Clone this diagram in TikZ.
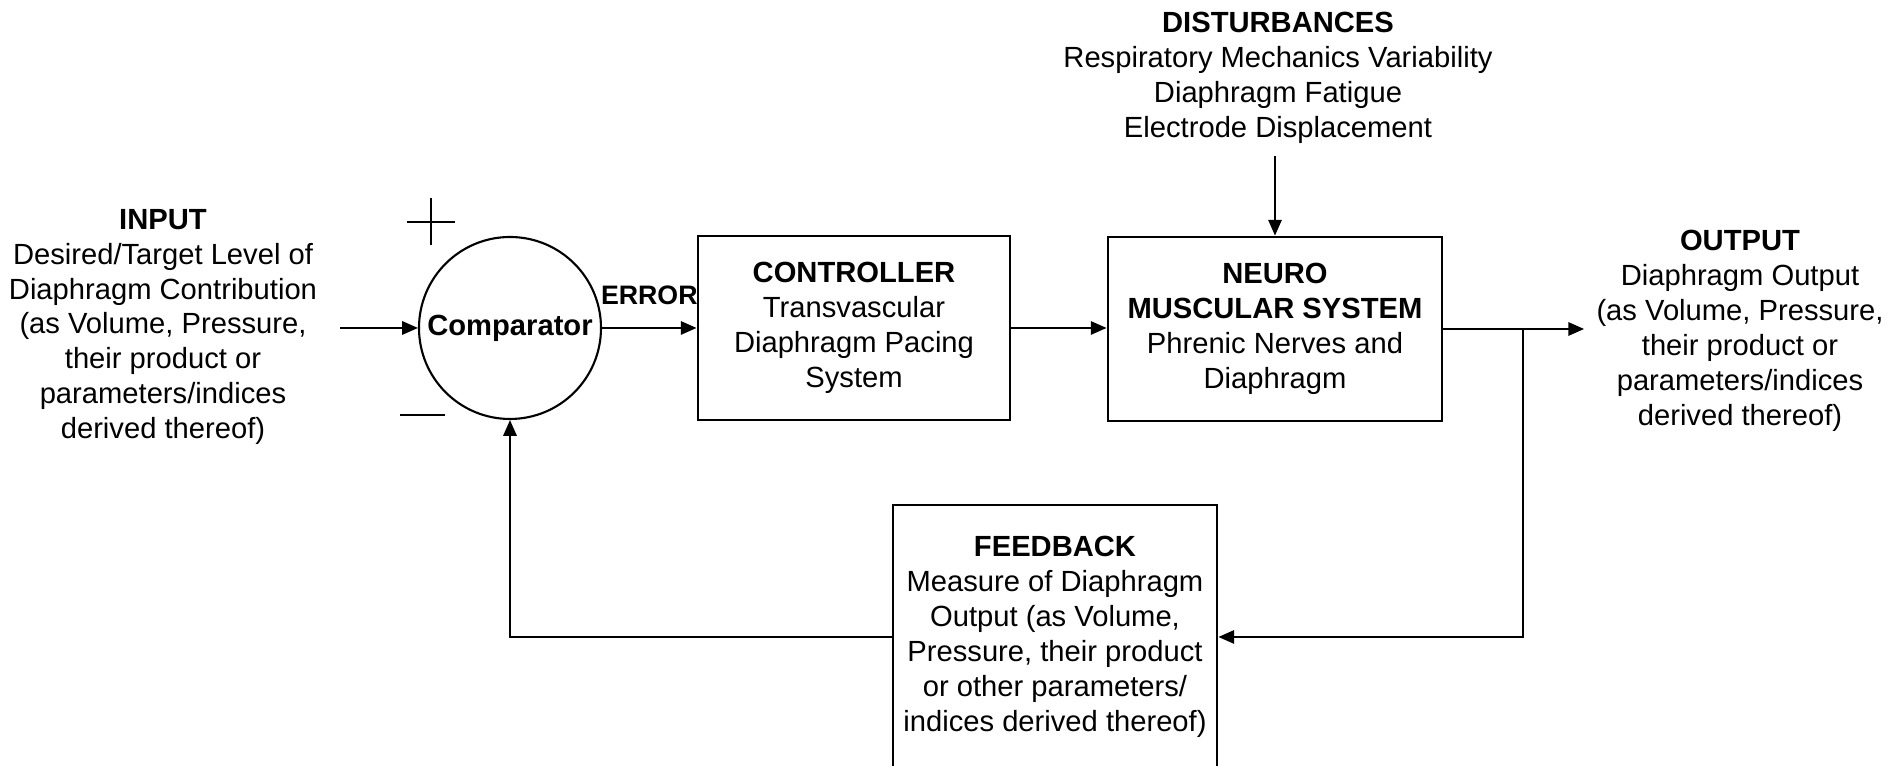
\documentclass[tikz,border=0pt]{standalone}
\usepackage{fontspec}
\setmainfont{Liberation Sans}
\usetikzlibrary{arrows.meta}
\newcommand{\diagfont}{\fontsize{8.3}{9.95}\selectfont}

\begin{document}
\begin{tikzpicture}[>={Triangle[length=4.5pt,width=3.8pt]}, font=\diagfont,
    block/.style={draw, line width=0.8pt, align=center, inner sep=0pt},
    link/.style={->, line width=0.6pt}]
        \useasboundingbox (0,0) rectangle (19.04,7.66);
        \clip (0,0) rectangle (19.04,7.66);
        \node[align=center] (input) at (1.63,4.39) {\textbf{INPUT}\\Desired/Target Level of\\Diaphragm Contribution\\(as Volume, Pressure,\\their product or\\parameters/indices\\derived thereof)};
        \node[draw, circle, line width=0.6pt, minimum size=1.82cm, inner sep=0pt, font=\diagfont\bfseries] (comp) at (5.10,4.38) {Comparator};
        \draw[line width=0.6pt] (4.07,5.44) -- (4.55,5.44) (4.31,5.21) -- (4.31,5.68);
        \draw[line width=0.7pt] (4.00,3.51) -- (4.45,3.51);
        \node[block, minimum width=3.12cm, minimum height=1.84cm] (ctrl) at (8.54,4.38) {\textbf{CONTROLLER}\\Transvascular\\Diaphragm Pacing\\System};
        \node[block, minimum width=3.34cm, minimum height=1.84cm] (nms) at (12.75,4.37) {\textbf{NEURO}\\\textbf{MUSCULAR SYSTEM}\\Phrenic Nerves and\\Diaphragm};
        \node[align=center] (dist) at (12.78,6.88) {\textbf{DISTURBANCES}\\Respiratory Mechanics Variability\\Diaphragm Fatigue\\Electrode Displacement};
        \node[align=center] (output) at (17.40,4.355) {\textbf{OUTPUT}\\Diaphragm Output\\(as Volume, Pressure,\\their product or\\parameters/indices\\derived thereof)};
        \node[block, minimum width=3.24cm, minimum height=2.64cm] (fb) at (10.55,1.29) {\textbf{FEEDBACK}\\Measure of Diaphragm\\Output (as Volume,\\Pressure, their product\\or other parameters/\\indices derived thereof)};
        \coordinate (tap) at (15.23,4.37);
        \draw[link, shorten <=3pt] (input.east |- comp) -- (comp);
        \draw[link] (comp) -- node[above=3pt, font=\fontsize{7.6}{9}\selectfont\bfseries] (err) {ERROR} (ctrl);
        \draw[link] (ctrl.east) -- (ctrl.east -| nms.west);
        \draw[link] (nms.north |- dist.south) -- (nms.north);
        \draw[link] (nms.east) -- (nms.east -| output.west);
        \draw[link] (tap) |- (fb.east);
        \draw[link] (fb.west) -| (comp.south);
      \end{tikzpicture}
\end{document}
